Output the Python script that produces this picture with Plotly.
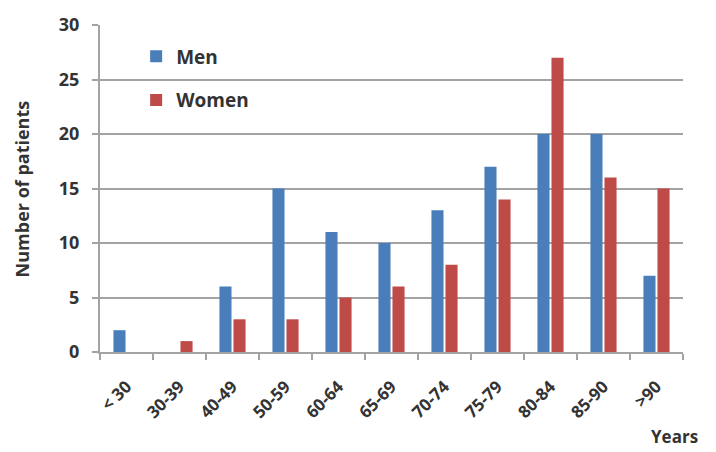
import plotly.graph_objects as go

# Age groups and patient counts by sex
age_groups = ["< 30", "30-39", "40-49", "50-59", "60-64", "65-69",
              "70-74", "75-79", "80-84", "85-90", ">90"]
men = [2, 0, 6, 15, 11, 10, 13, 17, 20, 20, 7]
women = [0, 1, 3, 3, 5, 6, 8, 14, 27, 16, 15]
y_ticks = [0, 5, 10, 15, 20, 25, 30]

FONT = "Open Sans"
TEXT = "#333333"
GRID = "#a3a3a3"

fig = go.Figure()
fig.add_trace(go.Bar(x=age_groups, y=men, name="Men",
                     marker=dict(color="#4a7ebb", line=dict(width=0)),
                     legendgroup="m"))
fig.add_trace(go.Bar(x=age_groups, y=women, name="Women",
                     marker=dict(color="#be4b48", line=dict(width=0)),
                     legendgroup="w"))

fig.update_layout(
    width=716, height=452,
    margin=dict(l=100, r=33, t=19, b=100),
    paper_bgcolor="white", plot_bgcolor="white",
    barmode="group", bargap=0.47, bargroupgap=0.14,
    font=dict(family=FONT, size=17, color=TEXT, weight="bold"),
    legend=dict(x=0.062, y=0.962, xanchor="left", yanchor="top",
                bgcolor="rgba(0,0,0,0)", tracegroupgap=16,
                font=dict(size=19, color=TEXT, weight="bold")),
    xaxis=dict(
        type="category", showline=True, linecolor=GRID, linewidth=2,
        tickson="boundaries", ticks="outside", ticklen=6, tickcolor=GRID,
        tickwidth=1.5, tickangle=-45, showgrid=False,
        tickfont=dict(size=17, color=TEXT, weight="bold"),
        ticklabelstandoff=16,
    ),
    yaxis=dict(
        range=[0, 30], tickvals=y_ticks, showline=True, linecolor=GRID,
        linewidth=2, ticks="outside", ticklen=6, tickcolor=GRID,
        tickwidth=1.5, showgrid=True, gridcolor=GRID, gridwidth=2,
        zeroline=False, tickfont=dict(size=18, color=TEXT, weight="bold"),
        ticklabelstandoff=9,
    ),
    annotations=[
        dict(text="Number of patients", xref="paper", yref="paper",
             x=-0.158, y=0.5, textangle=-90, showarrow=False,
             font=dict(size=18, color=TEXT, weight="bold")),
        dict(text="Years", xref="paper", yref="paper",
             x=1.03, y=-0.3, xanchor="right", showarrow=False,
             font=dict(size=17, color=TEXT, weight="bold")),
    ],
)

fig.write_html("out.html")
